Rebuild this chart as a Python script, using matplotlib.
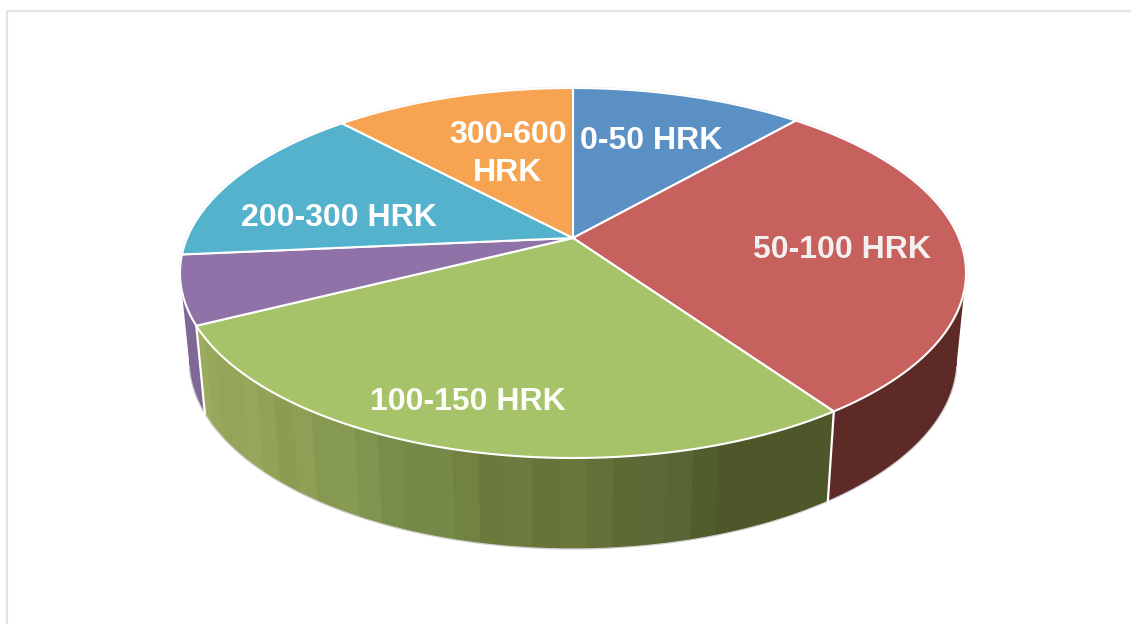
import matplotlib
matplotlib.use('Agg')
import matplotlib.pyplot as plt
import numpy as np

# share of each price band, percent
labels = ['0-50 HRK', '50-100 HRK', '100-150 HRK', '150-200 HRK', '200-300 HRK', '300-600\nHRK']
shares = [9.6, 28.85, 31.95, 6.2, 13.4, 10.0]
show_label = [True, True, True, False, True, True]

colors = ['#5B90C5', '#C6615D', '#A7C36A', '#8F72A8', '#54B2CD', '#F6A352']
label_xy = [(651, 141), (842, 250), (468, 402), None, (339, 218), (508, 154)]
label_colors = ['white', '#F3F0F0', '#FBFDF6', None, 'white', 'white']

# perspective of the disc, in pixels
apex = (573, 238)
top = (573, 273, 393, 185)
bottom = (573, 360, 384, 189)

# wall colours along x
wall_x = [205, 300, 400, 480, 575, 650, 725, 830]
wall_green = [(0.60, 0.66, 0.36), (0.55, 0.62, 0.33), (0.47, 0.56, 0.30), (0.43, 0.49, 0.25),
              (0.40, 0.45, 0.22), (0.36, 0.42, 0.22), (0.30, 0.34, 0.16), (0.30, 0.34, 0.16)]
stripes = [0.0, 0.01, -0.006, 0.008, -0.01, 0.005, 0.01, -0.005, -0.01]


def rim(ell, t):
    cx, cy, a, b = ell
    return cx + a * np.cos(t), cy - b * np.sin(t)


def wall_quad(t0, t1, color, z):
    x0, y0 = rim(top, t0)
    x1, y1 = rim(top, t1)
    x2, y2 = rim(bottom, t1)
    x3, y3 = rim(bottom, t0)
    ax.fill([x0, x1, x2, x3], [y0, y1, y2, y3], facecolor=color, edgecolor='none', zorder=z)


fig = plt.figure(figsize=(11.31, 6.24), dpi=100)
ax = fig.add_axes([0, 0, 1, 1])
ax.set_xlim(0, 1131)
ax.set_ylim(624, 0)
ax.axis('off')

# chart frame, open to the right and bottom
ax.plot([7, 7, 1131], [624, 11, 11], color='#E3E3E3', lw=1.6, solid_joinstyle='miter')

edges = np.radians(90 - np.cumsum([0] + shares) * 360 / sum(shares))

# faint grey halo round the top face
ts = np.radians(np.linspace(-12, 192, 300))
xs, ys = rim(top, ts)
ax.plot(xs, ys, color='#E4E4E4', lw=1.9, zorder=1)

# side walls first, the top face covers what is hidden
# red and purple walls are flat, each as one polygon
for i, c in [(1, '#5E2A27'), (3, '#7F6796')]:
    ts = np.linspace(edges[i], edges[i + 1], 160)
    ts = ts[np.sin(ts) < 0.0]
    xa, ya = rim(top, ts)
    xb, yb = rim(bottom, ts[::-1])
    ax.fill(np.r_[xa, xb], np.r_[ya, yb], facecolor=c, edgecolor='none', zorder=2)

# green wall in narrow bands; each band runs on under the next so no gaps show
ts = np.linspace(edges[2], edges[3], 30)
for n in range(len(ts) - 1):
    tm = (ts[n] + ts[n + 1]) / 2
    x = rim(top, tm)[0]
    rgb = [np.interp(x, wall_x, [p[k] for p in wall_green]) for k in range(3)]
    d = stripes[n % len(stripes)] if x < 725 else 0
    c = tuple(min(1, max(0, v + d)) for v in rgb)
    wall_quad(ts[n], ts[min(n + 2, len(ts) - 1)], c, 2 + n * 0.001)

# thin grey outline under the wall
ts = np.radians(np.linspace(-2, -178, 240))
xs, ys = rim(bottom, ts)
ax.plot(xs, ys, color='#CFCFCF', lw=0.9, zorder=3)

# white seams on the wall
for k in [2, 3]:
    xa, ya = rim(top, edges[k])
    xb, yb = rim(bottom, edges[k])
    ax.plot([xa, xb], [ya, yb], color='white', lw=1.6, zorder=4)

# top face
for i in range(len(shares)):
    ts = np.linspace(edges[i], edges[i + 1], 120)
    xs, ys = rim(top, ts)
    ax.fill(np.r_[apex[0], xs], np.r_[apex[1], ys], facecolor=colors[i], edgecolor='white',
            lw=1.5, joinstyle='round', zorder=5)

for i in range(len(labels)):
    if show_label[i]:
        ax.text(label_xy[i][0], label_xy[i][1], labels[i], color=label_colors[i], fontsize=23,
                family='Liberation Sans', fontweight='bold', ha='center', va='center',
                linespacing=1.35, zorder=6)

fig.savefig('out.png', dpi=100, facecolor='white')
